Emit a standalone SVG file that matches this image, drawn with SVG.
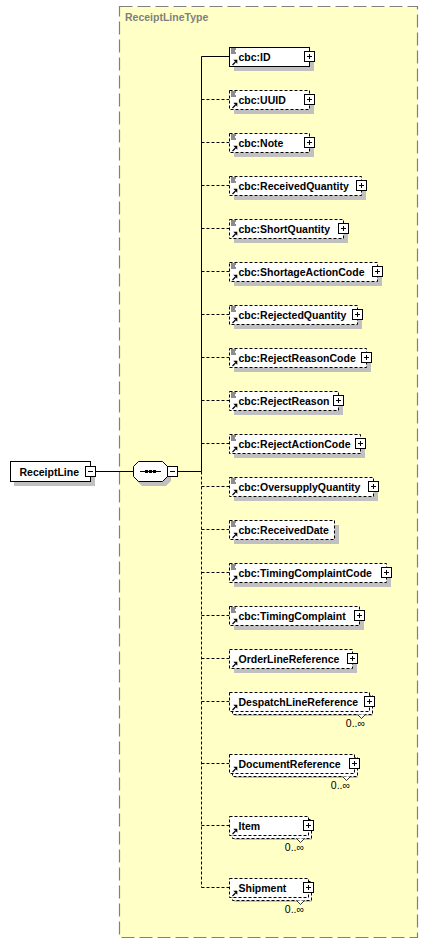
<svg xmlns="http://www.w3.org/2000/svg" xmlns:xlink="http://www.w3.org/1999/xlink" width="429" height="944" viewBox="0 0 429 944">
<style>
.bg{fill:#fff}
.cont{fill:#FFFFC6;stroke:#808080;stroke-width:1.2;stroke-dasharray:13,5}
.ctitle{font:bold 10.5px "Liberation Sans",Arial,sans-serif;fill:#808080}
.sh{fill:#C0C0C0}
.box{fill:#fff;stroke:#000;stroke-width:1}
.opt{stroke-dasharray:3,2}
.t{font:bold 10.5px "Liberation Sans",Arial,sans-serif;fill:#000}
.occ{font:10.5px "Liberation Sans",Arial,sans-serif;fill:#000;text-anchor:end}
.ln{fill:none;stroke:#000;stroke-width:1}
.dl{fill:none;stroke:#000;stroke-width:1;stroke-dasharray:3,2}
.notch{fill:#fff;stroke:#000;stroke-width:0.8}
</style>
<defs>
<g id="pl"><rect x="-4.5" y="-4.5" width="10" height="10" fill="#fff" stroke="#000"/><path d="M-2 0.5H3M0.5 -2V3" stroke="#000" fill="none"/></g>
<g id="mi"><rect x="-4.5" y="-4.5" width="10" height="10" fill="#fff" stroke="#000"/><path d="M-2 0.5H3" stroke="#000" fill="none"/></g>
<g id="doc"><path d="M1.5 1.5H6.5M1.5 3.5H5.5M1.5 5.5H6.5" stroke="#000" stroke-width="0.9" fill="none"/></g>
<g id="arr"><path d="M3 17.5L6 14.5" stroke="#000" stroke-width="1.2" fill="none"/><path d="M7.8 12.2L7.8 16.2L3.8 12.2Z" fill="#000"/></g>
</defs>
<rect class="bg" x="0" y="0" width="429" height="944"/>
<g id="container">
<rect class="cont" x="119.5" y="6.5" width="298" height="931"/>
<text class="ctitle" x="125" y="21">ReceiptLineType</text>
</g>
<g id="connectors">
<path class="ln" d="M95 471.5H133M177 471.5H201.5M201.5 471.5V56.5H229.5"/>
<path class="dl" d="M201.5 471.5V887.5"/>
<path class="dl" d="M201.5 99.5H229.5M201.5 142.5H229.5M201.5 185.5H229.5M201.5 228.5H229.5M201.5 271.5H229.5M201.5 314.5H229.5M201.5 357.5H229.5M201.5 400.5H229.5M201.5 443.5H229.5M201.5 486.5H229.5M201.5 529.5H229.5M201.5 572.5H229.5M201.5 615.5H229.5M201.5 658.5H229.5M201.5 701.5H229.5M201.5 763.5H229.5M201.5 825.5H229.5M201.5 887.5H229.5"/>
</g>
<g id="ReceiptLine">
<rect class="sh" x="14" y="466" width="81" height="20"/>
<rect class="box" x="10.5" y="461.5" width="80" height="20"/>
<text class="t" x="19.5" y="475.5">ReceiptLine</text>
<use xlink:href="#mi" x="90" y="471"/>
</g>
<g id="sequence">
<path class="sh" d="M142 466H166L171 471V481L166 486H142L137 481V471Z"/>
<path class="box" d="M138.5 461.5H162.5L167.5 466.5V476.5L162.5 481.5H138.5L133.5 476.5V466.5Z"/>
<path d="M140 471.5H161" stroke="#000" fill="none"/>
<rect x="145" y="470" width="3" height="3" fill="#000"/>
<rect x="149" y="470" width="3" height="3" fill="#000"/>
<rect x="153" y="470" width="3" height="3" fill="#000"/>
<use xlink:href="#mi" x="172" y="471"/>
</g>
<g id="n_ID">
<rect class="sh" x="234" y="52" width="80" height="19"/>
<rect class="box" x="229.5" y="47.5" width="80" height="19"/>
<use xlink:href="#doc" x="229.5" y="47.5"/><use xlink:href="#arr" x="229.5" y="47.5"/>
<text class="t" x="238.5" y="60.5">cbc:ID</text>
<use xlink:href="#pl" x="309" y="56"/>
</g>
<g id="n_UUID">
<rect class="sh" x="234" y="95" width="80" height="19"/>
<rect class="box opt" x="229.5" y="90.5" width="80" height="19"/>
<use xlink:href="#doc" x="229.5" y="90.5"/><use xlink:href="#arr" x="229.5" y="90.5"/>
<text class="t" x="238.5" y="103.5">cbc:UUID</text>
<use xlink:href="#pl" x="309" y="99"/>
</g>
<g id="n_Note">
<rect class="sh" x="234" y="138" width="80" height="19"/>
<rect class="box opt" x="229.5" y="133.5" width="80" height="19"/>
<use xlink:href="#doc" x="229.5" y="133.5"/><use xlink:href="#arr" x="229.5" y="133.5"/>
<text class="t" x="238.5" y="146.5">cbc:Note</text>
<use xlink:href="#pl" x="309" y="142"/>
</g>
<g id="n_ReceivedQuantity">
<rect class="sh" x="234" y="181" width="132" height="19"/>
<rect class="box opt" x="229.5" y="176.5" width="132" height="19"/>
<use xlink:href="#doc" x="229.5" y="176.5"/><use xlink:href="#arr" x="229.5" y="176.5"/>
<text class="t" x="238.5" y="189.5">cbc:ReceivedQuantity</text>
<use xlink:href="#pl" x="361" y="185"/>
</g>
<g id="n_ShortQuantity">
<rect class="sh" x="234" y="224" width="114" height="19"/>
<rect class="box opt" x="229.5" y="219.5" width="114" height="19"/>
<use xlink:href="#doc" x="229.5" y="219.5"/><use xlink:href="#arr" x="229.5" y="219.5"/>
<text class="t" x="238.5" y="232.5">cbc:ShortQuantity</text>
<use xlink:href="#pl" x="343" y="228"/>
</g>
<g id="n_ShortageActionCode">
<rect class="sh" x="234" y="267" width="148" height="19"/>
<rect class="box opt" x="229.5" y="262.5" width="148" height="19"/>
<use xlink:href="#doc" x="229.5" y="262.5"/><use xlink:href="#arr" x="229.5" y="262.5"/>
<text class="t" x="238.5" y="275.5">cbc:ShortageActionCode</text>
<use xlink:href="#pl" x="377" y="271"/>
</g>
<g id="n_RejectedQuantity">
<rect class="sh" x="234" y="310" width="128" height="19"/>
<rect class="box opt" x="229.5" y="305.5" width="128" height="19"/>
<use xlink:href="#doc" x="229.5" y="305.5"/><use xlink:href="#arr" x="229.5" y="305.5"/>
<text class="t" x="238.5" y="318.5">cbc:RejectedQuantity</text>
<use xlink:href="#pl" x="357" y="314"/>
</g>
<g id="n_RejectReasonCode">
<rect class="sh" x="234" y="353" width="137" height="19"/>
<rect class="box opt" x="229.5" y="348.5" width="137" height="19"/>
<use xlink:href="#doc" x="229.5" y="348.5"/><use xlink:href="#arr" x="229.5" y="348.5"/>
<text class="t" x="238.5" y="361.5">cbc:RejectReasonCode</text>
<use xlink:href="#pl" x="366" y="357"/>
</g>
<g id="n_RejectReason">
<rect class="sh" x="234" y="396" width="109" height="19"/>
<rect class="box opt" x="229.5" y="391.5" width="109" height="19"/>
<use xlink:href="#doc" x="229.5" y="391.5"/><use xlink:href="#arr" x="229.5" y="391.5"/>
<text class="t" x="238.5" y="404.5">cbc:RejectReason</text>
<use xlink:href="#pl" x="338" y="400"/>
</g>
<g id="n_RejectActionCode">
<rect class="sh" x="234" y="439" width="131" height="19"/>
<rect class="box opt" x="229.5" y="434.5" width="131" height="19"/>
<use xlink:href="#doc" x="229.5" y="434.5"/><use xlink:href="#arr" x="229.5" y="434.5"/>
<text class="t" x="238.5" y="447.5">cbc:RejectActionCode</text>
<use xlink:href="#pl" x="360" y="443"/>
</g>
<g id="n_OversupplyQuantity">
<rect class="sh" x="234" y="482" width="144" height="19"/>
<rect class="box opt" x="229.5" y="477.5" width="144" height="19"/>
<use xlink:href="#doc" x="229.5" y="477.5"/><use xlink:href="#arr" x="229.5" y="477.5"/>
<text class="t" x="238.5" y="490.5">cbc:OversupplyQuantity</text>
<use xlink:href="#pl" x="373" y="486"/>
</g>
<g id="n_ReceivedDate">
<rect class="sh" x="234" y="525" width="105" height="19"/>
<rect class="box opt" x="229.5" y="520.5" width="105" height="19"/>
<use xlink:href="#doc" x="229.5" y="520.5"/><use xlink:href="#arr" x="229.5" y="520.5"/>
<text class="t" x="238.5" y="533.5">cbc:ReceivedDate</text>
</g>
<g id="n_TimingComplaintCode">
<rect class="sh" x="234" y="568" width="157" height="19"/>
<rect class="box opt" x="229.5" y="563.5" width="157" height="19"/>
<use xlink:href="#doc" x="229.5" y="563.5"/><use xlink:href="#arr" x="229.5" y="563.5"/>
<text class="t" x="238.5" y="576.5">cbc:TimingComplaintCode</text>
<use xlink:href="#pl" x="386" y="572"/>
</g>
<g id="n_TimingComplaint">
<rect class="sh" x="234" y="611" width="130" height="19"/>
<rect class="box opt" x="229.5" y="606.5" width="130" height="19"/>
<use xlink:href="#doc" x="229.5" y="606.5"/><use xlink:href="#arr" x="229.5" y="606.5"/>
<text class="t" x="238.5" y="619.5">cbc:TimingComplaint</text>
<use xlink:href="#pl" x="359" y="615"/>
</g>
<g id="n_OrderLineReference">
<rect class="sh" x="234" y="654" width="123" height="19"/>
<rect class="box opt" x="229.5" y="649.5" width="123" height="19"/>
<use xlink:href="#arr" x="229.5" y="649.5"/>
<text class="t" x="238.5" y="662.5">OrderLineReference</text>
<use xlink:href="#pl" x="352" y="658"/>
</g>
<g id="n_DespatchLineReference">
<rect class="sh" x="234.5" y="700" width="138" height="16"/>
<rect class="box opt" x="232.5" y="695.5" width="140" height="19"/>
<rect class="box opt" x="229.5" y="692.5" width="140" height="19"/>
<use xlink:href="#arr" x="229.5" y="692.5"/>
<text class="t" x="238.5" y="705.5">DespatchLineReference</text>
<use xlink:href="#pl" x="369" y="701"/>
<path class="notch" d="M357.5 714.5L361.5 718.5L365.5 714.5"/>
<text class="occ" x="365" y="727">0..∞</text>
</g>
<g id="n_DocumentReference">
<rect class="sh" x="234.5" y="762" width="123" height="16"/>
<rect class="box opt" x="232.5" y="757.5" width="125" height="19"/>
<rect class="box opt" x="229.5" y="754.5" width="125" height="19"/>
<use xlink:href="#arr" x="229.5" y="754.5"/>
<text class="t" x="238.5" y="767.5">DocumentReference</text>
<use xlink:href="#pl" x="354" y="763"/>
<path class="notch" d="M342.5 776.5L346.5 780.5L350.5 776.5"/>
<text class="occ" x="350" y="789">0..∞</text>
</g>
<g id="n_Item">
<rect class="sh" x="234.5" y="824" width="77" height="16"/>
<rect class="box opt" x="232.5" y="819.5" width="79" height="19"/>
<rect class="box opt" x="229.5" y="816.5" width="79" height="19"/>
<use xlink:href="#arr" x="229.5" y="816.5"/>
<text class="t" x="238.5" y="829.5">Item</text>
<use xlink:href="#pl" x="308" y="825"/>
<path class="notch" d="M296.5 838.5L300.5 842.5L304.5 838.5"/>
<text class="occ" x="304" y="851">0..∞</text>
</g>
<g id="n_Shipment">
<rect class="sh" x="234.5" y="886" width="77" height="16"/>
<rect class="box opt" x="232.5" y="881.5" width="79" height="19"/>
<rect class="box opt" x="229.5" y="878.5" width="79" height="19"/>
<use xlink:href="#arr" x="229.5" y="878.5"/>
<text class="t" x="238.5" y="891.5">Shipment</text>
<use xlink:href="#pl" x="308" y="887"/>
<path class="notch" d="M296.5 900.5L300.5 904.5L304.5 900.5"/>
<text class="occ" x="304" y="913">0..∞</text>
</g>
</svg>
